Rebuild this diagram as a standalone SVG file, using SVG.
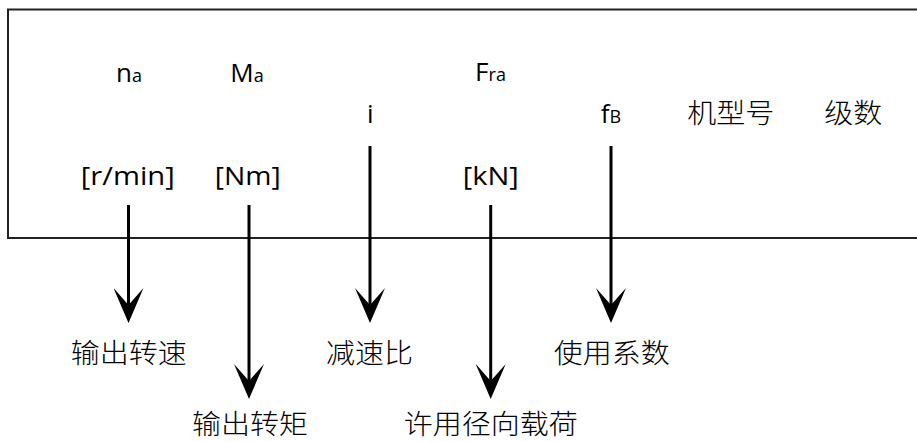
<svg xmlns="http://www.w3.org/2000/svg" width="917" height="442" viewBox="0 0 917 442">
  <style>
    .lat { font-family: "Open Sans", "Noto Sans", sans-serif; font-size: 26px; fill: #000; text-anchor: middle; }
    .sub { font-size: 18px; }
    .cjk { font-family: "Noto Sans CJK SC", "Noto Sans", sans-serif; font-size: 27px; font-weight: 300; fill: #000; text-anchor: middle; }
    .conn { stroke: #000; stroke-width: 3; fill: none; marker-end: url(#ah); }
    .frame { fill: #fff; stroke: #222; stroke-width: 2; }
  </style>
  <defs>
    <marker id="ah" viewBox="0 0 35 30" refX="17" refY="15" markerWidth="35" markerHeight="30" markerUnits="userSpaceOnUse" orient="auto">
      <path d="M0,0 L35,15 L0,30 L17,15 Z" fill="#000"/>
    </marker>
  </defs>
  <rect width="917" height="442" fill="#fff"/>
  <g id="table">
    <rect class="frame" x="8" y="9.5" width="920" height="228.5"/>
  </g>
  <g id="connectors">
    <line class="conn" x1="128.5" y1="205" x2="128.5" y2="305"/>
    <line class="conn" x1="249" y1="205" x2="249" y2="381"/>
    <line class="conn" x1="370" y1="146" x2="370" y2="305"/>
    <line class="conn" x1="490.7" y1="205" x2="490.7" y2="381"/>
    <line class="conn" x1="611" y1="146" x2="611" y2="305"/>
  </g>
  <g id="node-na">
    <text class="lat" x="129" y="82">n<tspan class="sub">a</tspan></text>
    <text class="lat" x="127.8" y="185" textLength="94" lengthAdjust="spacingAndGlyphs">[r/min]</text>
    <text class="cjk" x="128.7" y="363" textLength="116" lengthAdjust="spacingAndGlyphs">输出转速</text>
  </g>
  <g id="node-Ma">
    <text class="lat" x="247" y="82">M<tspan class="sub">a</tspan></text>
    <text class="lat" x="247.8" y="185" textLength="66" lengthAdjust="spacingAndGlyphs">[Nm]</text>
    <text class="cjk" x="250" y="434" textLength="116" lengthAdjust="spacingAndGlyphs">输出转矩</text>
  </g>
  <g id="node-i">
    <text class="lat" x="370.3" y="123">i</text>
    <text class="cjk" x="369.5" y="363" textLength="87" lengthAdjust="spacingAndGlyphs">减速比</text>
  </g>
  <g id="node-Fra">
    <text class="lat" x="490.5" y="81">F<tspan class="sub">ra</tspan></text>
    <text class="lat" x="490.7" y="185" textLength="56" lengthAdjust="spacingAndGlyphs">[kN]</text>
    <text class="cjk" x="490.8" y="434" textLength="174" lengthAdjust="spacingAndGlyphs">许用径向载荷</text>
  </g>
  <g id="node-fB">
    <text class="lat" x="611" y="123">f<tspan class="sub">B</tspan></text>
    <text class="cjk" x="611.7" y="363" textLength="116" lengthAdjust="spacingAndGlyphs">使用系数</text>
  </g>
  <g id="node-model">
    <text class="cjk" x="730.8" y="123" textLength="87" lengthAdjust="spacingAndGlyphs">机型号</text>
  </g>
  <g id="node-stages">
    <text class="cjk" x="853.3" y="123" textLength="58" lengthAdjust="spacingAndGlyphs">级数</text>
  </g>
</svg>
